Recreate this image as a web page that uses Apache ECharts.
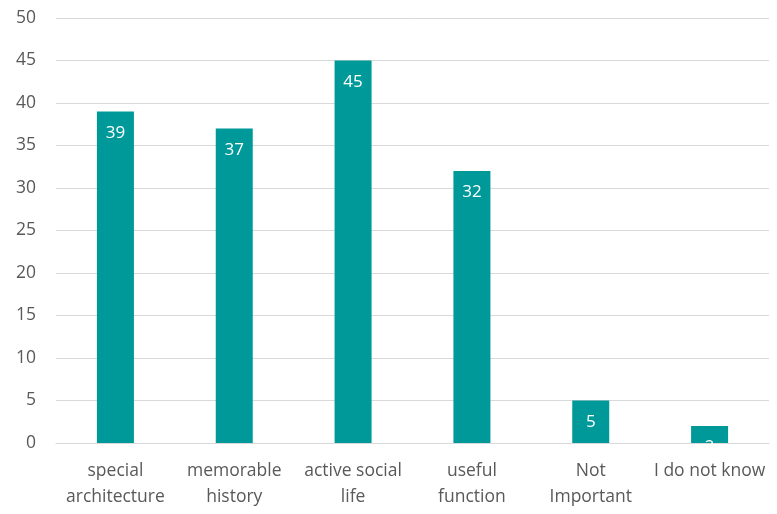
<!DOCTYPE html>
<html><head><meta charset="utf-8">
<script src="https://cdn.jsdelivr.net/npm/echarts@6/dist/echarts.min.js"></script>
<style>html,body{margin:0;padding:0;background:#fff}#c{width:777px;height:514px}</style>
</head><body><div id="c"></div>
<script>
const categories = ["special\narchitecture", "memorable\nhistory", "active social\nlife", "useful\nfunction", "Not\nImportant", "I do not know"];
const values = [39, 37, 45, 32, 5, 2];
const yTicks = {min: 0, max: 50, interval: 5};

const chart = echarts.init(document.getElementById('c'), null, {renderer: 'canvas'});
const font = "'Open Sans', sans-serif";
chart.setOption({
  animation: false,
  grid: {left: 56, right: 8, top: 18, bottom: 71, containLabel: false},
  xAxis: {
    type: 'category', data: categories,
    axisLine: {lineStyle: {color: '#d9d9d9', width: 1}},
    axisTick: {show: false},
    axisLabel: {color: '#595959', fontSize: 17.5, fontFamily: font, margin: 15, lineHeight: 26, interval: 0}
  },
  yAxis: {
    type: 'value', min: yTicks.min, max: yTicks.max, interval: yTicks.interval,
    axisLine: {show: false}, axisTick: {show: false},
    splitLine: {lineStyle: {color: '#d9d9d9', width: 1}},
    axisLabel: {color: '#595959', fontSize: 17.5, fontFamily: font, margin: 20}
  },
  series: [{
    type: 'bar', data: values, barWidth: 37,
    itemStyle: {color: '#009999'},
    label: {show: true, position: 'insideTop', distance: 13, color: '#ffffff', fontSize: 17, fontFamily: font}
  }]
});
</script></body></html>
